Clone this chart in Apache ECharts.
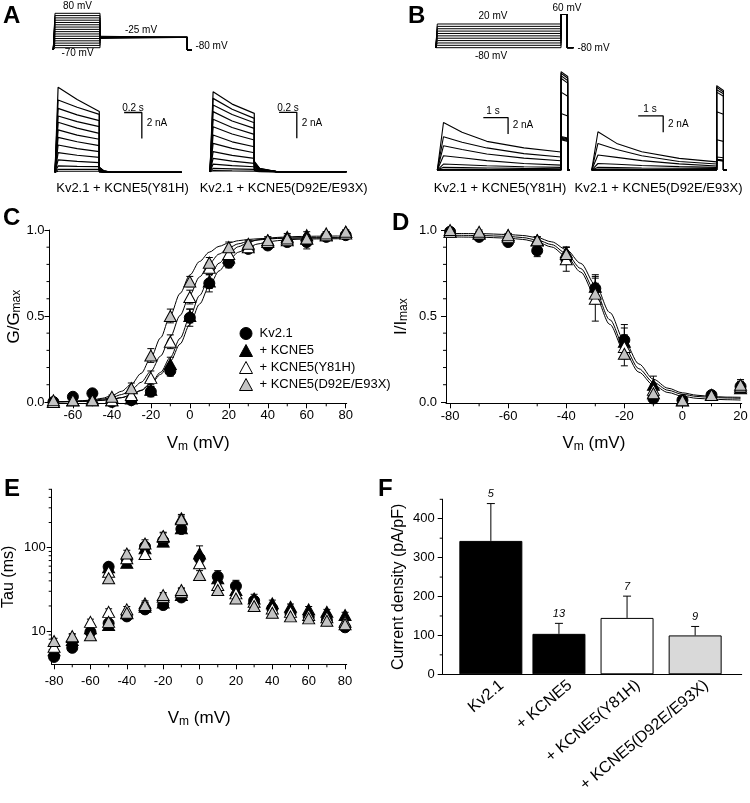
<!DOCTYPE html>
<html><head><meta charset="utf-8">
<script src="https://cdn.jsdelivr.net/npm/echarts@6/dist/echarts.min.js"></script>
<style>html,body{margin:0;padding:0;background:#fff}#c{width:750px;height:803px}</style>
</head><body><div id="c"></div>
<script>
// ================= DATA =================
// Panel A voltage protocol (mV) and timing (s)
const protA_steps = [-70,-60,-50,-40,-30,-20,-10,0,10,20,30,40,50,60,70,80];
const protA_levels = {hold:-80, tail:-25};
const protA_times = [-0.02, 0, 0.5, 1.47, 1.52];
// Panel A current traces (nA): peak, value at 0.25 s, end of step, tail
const aL_peak = [6.54,5.56,4.92,4.33,3.85,3.26,2.69,2.10,1.51,0.95,0.49,0.23,0.08];
const aL_mid  = [5.60,5.00,4.42,3.90,3.40,2.86,2.35,1.82,1.31,0.84,0.46,0.23,0.08];
const aL_end  = [4.67,4.46,3.97,3.51,3.00,2.54,2.05,1.59,1.15,0.74,0.44,0.23,0.08];
const aL_tail = [0.40,0.38,0.35,0.32,0.28,0.25,0.21,0.17,0.13,0.09,0.05,0.02,0.01];
const aL_late = [0.12,0.11,0.10,0.09,0.08,0.07,0.06,0.05,0.04,0.03,0.02,0.01,0.00];
const aR_peak = [6.15,5.64,5.13,4.62,4.03,3.46,2.82,2.18,1.54,1.03,0.59,0.26,0.08];
const aR_mid  = [5.20,4.80,4.40,3.90,3.40,2.90,2.30,1.80,1.25,0.82,0.47,0.22,0.06];
const aR_end  = [4.49,4.10,3.77,3.33,2.87,2.44,1.92,1.46,1.03,0.64,0.38,0.18,0.05];
const aR_tail = [0.80,0.75,0.70,0.65,0.58,0.50,0.42,0.34,0.26,0.18,0.10,0.05,0.01];
const aR_late = [0.25,0.23,0.21,0.19,0.17,0.15,0.13,0.10,0.08,0.05,0.03,0.015,0.00];
const aTimes = {peak:0.035, mid:0.25, end:0.5};
const aScale_t = [0.78, 0.98], aScaleL_i = [4.6, 2.6], aScaleR_i = [4.57, 2.57];

// Panel B voltage protocol
const protB_steps = [-80,-70,-60,-50,-40,-30,-20,-10,0,10,20];
const protB_levels = {hold:-80, test:60};
const protB_times = [-0.06, 0, 5, 5.25, 5.5];
// Panel B current traces (nA) at 0.25, 1, 2, 3.5, 5 s and test pulse start/end
const bL_peak = [0,0,0,0.02,0.10,0.33,0.73,1.75,2.96,4.06,5.80];
const bL_t1   = [0,0,0,0.02,0.09,0.30,0.65,1.50,2.50,3.40,4.60];
const bL_t2   = [0,0,0,0.02,0.08,0.25,0.52,1.15,1.95,2.70,3.50];
const bL_t35  = [0,0,0,0.01,0.07,0.20,0.40,0.80,1.45,2.00,2.70];
const bL_end  = [0,0,0,0.01,0.06,0.16,0.33,0.60,1.13,1.60,2.20];
const bL_pulse    = [12.0,11.8,11.5,11.2,9.5,6.9,4.1,3.9,3.7,3.8,4.0];
const bL_pulseEnd = [11.4,11.2,10.9,10.6,9.0,6.6,3.9,3.7,3.5,3.6,3.8];
const bR_peak = [0,0,0,0.01,0.04,0.12,0.33,0.80,1.83,3.25,4.67];
const bR_t1   = [0,0,0,0.01,0.04,0.11,0.30,0.70,1.55,2.50,3.25];
const bR_t2   = [0,0,0,0.01,0.03,0.10,0.26,0.55,1.15,1.75,2.23];
const bR_t35  = [0,0,0,0.01,0.03,0.10,0.22,0.42,0.75,1.05,1.42];
const bR_end  = [0,0,0,0.01,0.03,0.10,0.20,0.33,0.50,0.73,1.00];
const bR_pulse    = [10.3,10.1,9.8,9.5,7.1,3.7,1.6,1.3,1.2,1.2,1.3];
const bR_pulseEnd = [9.7,9.5,9.3,9.0,6.8,3.5,1.5,1.2,1.1,1.1,1.2];
const bTimes = [0, 0.25, 1, 2, 3.5, 5, 5.27];
const bScale_t = [1.86, 2.86], bScaleL_i = [6.4, 4.4], bScaleR_i = [6.6, 4.6];

// Panel C: G/Gmax
const cV = [-70,-60,-50,-40,-30,-20,-10,0,10,20,30,40,50,60,70,80];
const cKv   = [0.00,0.03,0.05,0.00,0.01,0.06,0.18,0.49,0.69,0.81,0.89,0.91,0.93,0.93,0.96,0.97];
const cKv_e = [0.01,0.02,0.02,0.01,0.01,0.03,0.03,0.05,0.05,0.03,0.02,0.02,0.02,0.04,0.02,0.01];
const cK5   = [0.00,0.01,0.02,0.01,0.02,0.07,0.22,0.50,0.70,0.84,0.91,0.94,0.96,0.97,0.97,0.99];
const cK5_e = [0.01,0.01,0.01,0.01,0.01,0.02,0.04,0.04,0.04,0.03,0.02,0.02,0.02,0.02,0.02,0.01];
const cY81   = [0.00,0.01,0.01,0.01,0.04,0.14,0.35,0.61,0.78,0.86,0.90,0.93,0.94,0.95,0.97,0.98];
const cY81_e = [0.01,0.01,0.01,0.01,0.02,0.04,0.04,0.04,0.03,0.03,0.02,0.02,0.02,0.02,0.01,0.01];
const cD92   = [0.01,0.01,0.01,0.03,0.08,0.27,0.50,0.70,0.81,0.90,0.92,0.94,0.95,0.95,0.98,0.99];
const cD92_e = [0.01,0.01,0.01,0.01,0.03,0.04,0.04,0.03,0.03,0.03,0.02,0.02,0.02,0.02,0.01,0.01];
const cFitV = [-70,-65,-60,-55,-50,-45,-40,-35,-30,-25,-20,-15,-10,-5,0,5,10,15,20,25,30,35,40,45,50,55,60,65,70,75,80];
const cFitKv  = [0.001,0.001,0.002,0.004,0.006,0.010,0.016,0.025,0.041,0.066,0.104,0.160,0.237,0.337,0.451,0.569,0.675,0.762,0.826,0.871,0.900,0.919,0.931,0.938,0.943,0.946,0.947,0.948,0.949,0.949,0.950];
const cFitK5  = [0.001,0.001,0.002,0.003,0.005,0.009,0.015,0.025,0.041,0.068,0.110,0.172,0.259,0.370,0.495,0.619,0.725,0.807,0.865,0.903,0.928,0.943,0.952,0.957,0.960,0.962,0.963,0.964,0.964,0.965,0.965];
const cFitY81 = [0.001,0.002,0.003,0.006,0.009,0.016,0.026,0.043,0.071,0.114,0.178,0.267,0.379,0.503,0.623,0.727,0.805,0.860,0.897,0.920,0.934,0.942,0.947,0.951,0.952,0.953,0.954,0.954,0.955,0.955,0.955];
const cFitD92 = [0.001,0.002,0.004,0.007,0.012,0.021,0.037,0.062,0.103,0.166,0.257,0.373,0.504,0.631,0.738,0.817,0.871,0.905,0.925,0.938,0.945,0.949,0.952,0.953,0.954,0.954,0.955,0.955,0.955,0.955,0.955];

// Panel D: I/Imax
const dV = [-80,-70,-60,-50,-40,-30,-20,-10,0,10,20];
const dKv   = [0.99,0.96,0.93,0.88,0.83,0.66,0.36,0.02,0.01,0.04,0.09];
const dKv_e = [0.01,0.01,0.02,0.035,0.03,0.06,0.09,0.02,0.01,0.01,0.02];
const dK5   = [0.99,0.98,0.97,0.94,0.87,0.67,0.35,0.10,0.01,0.04,0.08];
const dK5_e = [0.01,0.01,0.01,0.02,0.03,0.07,0.08,0.05,0.01,0.01,0.02];
const dY81   = [0.99,0.98,0.96,0.94,0.83,0.60,0.32,0.07,0.01,0.04,0.09];
const dY81_e = [0.01,0.01,0.01,0.02,0.07,0.13,0.07,0.03,0.01,0.01,0.03];
const dD92   = [1.00,0.99,0.97,0.94,0.86,0.63,0.28,0.05,0.01,0.04,0.10];
const dD92_e = [0.01,0.01,0.01,0.02,0.04,0.06,0.07,0.02,0.01,0.01,0.03];
const dFitV = [-80,-70,-60,-55,-50,-45,-40,-35,-30,-25,-20,-15,-10,-5,0,5,10,15,20];
const dFit1 = [0.970,0.968,0.963,0.956,0.942,0.915,0.864,0.776,0.643,0.478,0.318,0.193,0.114,0.068,0.044,0.032,0.026,0.023,0.021];
const dFit2 = [0.980,0.979,0.974,0.968,0.956,0.931,0.886,0.806,0.681,0.520,0.354,0.221,0.132,0.080,0.053,0.039,0.032,0.028,0.027];
const dFit3 = [0.960,0.958,0.953,0.945,0.930,0.901,0.847,0.755,0.617,0.451,0.293,0.173,0.098,0.055,0.033,0.021,0.016,0.013,0.011];

// Panel E: Tau (ms)
const eV = [-80,-70,-60,-50,-40,-30,-20,-10,0,10,20,30,40,50,60,70,80];
const eKv   = [4.9,6.3,9.8,12.4,15,18.2,20.5,25.3,74.5,45,34.6,23.1,18.7,16.3,14.8,13.5,11.1];
const eKv_e = [0.4,0.5,0.8,1,1,1.2,1.5,2,10,8,6,2.5,1.5,1.2,1,1,0.8];
const eK5   = [5.9,7.8,10.8,11.8,16.3,19.6,22,27,85,43,31,24.6,21.5,19.6,18.2,17,15.6];
const eK5_e = [0.5,0.6,1,1,1.2,1.5,2,2.5,20,7,5,3,2,1.5,1.5,1.2,1.2];
const eY81   = [6.5,8.5,12.9,17,18.2,21.5,25.8,29.7,65,35.6,28.3,22.5,18.7,17,15.6,14.6,12.9];
const eY81_e = [0.6,0.7,1,1.5,1.5,1.5,2,2.5,8,5,3,2,1.5,1.2,1.2,1,1];
const eD92   = [7.6,8.7,8.9,12.9,16.6,20.5,27,31,47,31,24.6,20,16.6,15,14.2,13.3,12.1];
const eD92_e = [0.6,0.6,0.7,1,1.2,1.5,2,2,6,3,2.5,2,1.5,1.2,1,1,1];
const eSlowV = [-50,-40,-30,-20,-10];
const eKvS   = [59,72,103,121,167];   const eKvS_e = [6,8,10,12,15];
const eK5S   = [58,66,98,118,171];    const eK5S_e = [6,7,12,12,15];
const eY81S  = [51.5,74.5,84,135,225];const eY81S_e = [6,8,10,15,25];
const eD92S  = [43,85,112,138,219];   const eD92S_e = [5,8,12,15,20];

// Panel F: current density
const fCats = ['Kv2.1', '+ KCNE5', '+ KCNE5(Y81H)', '+ KCNE5(D92E/E93X)'];
const fMean = [343, 104, 145, 100];
const fErr  = [96, 27, 56, 23];
const fN    = [5, 13, 7, 9];

// Tick values
const cXTicks = [-60,-40,-20,0,20,40,60,80], cXMinor = [-70,-50,-30,-10,10,30,50,70];
const gYTicks = [0,0.5,1], gYMinor = [0.1,0.2,0.3,0.4,0.6,0.7,0.8,0.9];
const dXTicks = [-80,-60,-40,-20,0,20], dXMinor = [-70,-50,-30,-10,10];
const eXTicks = [-80,-60,-40,-20,0,20,40,60,80], eXMinor = [-70,-50,-30,-10,10,30,50,70];
const eYTicks = [10,100], eYMinor = [5,6,7,8,9,20,30,40,50,60,70,80,90,200,300,400,500];
const fYTicks = [0,100,200,300,400], fYMinor = [50,150,250,350,450];

// ================= STYLE / BUILD =================
const FONT = '"Liberation Sans", Arial, Helvetica, sans-serif';
const GRAY_MK = '#c4c4c4', GRAY_BAR = '#d9d9d9';
const NAMES = ['Kv2.1', '+ KCNE5', '+ KCNE5(Y81H)', '+ KCNE5(D92E/E93X)'];
const MK = [
  {symbol:'circle', size:11, itemStyle:{color:'#000', borderColor:'#000', borderWidth:1, opacity:1}},
  {symbol:'triangle', size:[12,11], itemStyle:{color:'#000', borderColor:'#000', borderWidth:1, opacity:1}},
  {symbol:'triangle', size:[12,11], itemStyle:{color:'#fff', borderColor:'#000', borderWidth:1, opacity:1}},
  {symbol:'triangle', size:[12,11], itemStyle:{color:GRAY_MK, borderColor:'#000', borderWidth:1, opacity:1}}
];
const RICH = {
  a:{fontSize:17, fontFamily:FONT, color:'#000', lineHeight:22, verticalAlign:'bottom'},
  b:{fontSize:12, fontFamily:FONT, color:'#000', lineHeight:10, verticalAlign:'bottom'},
  c:{fontSize:16, fontFamily:FONT, color:'#000', lineHeight:20}
};

const option = {animation:false, backgroundColor:'#fff', grid:[], xAxis:[], yAxis:[], series:[], graphic:[]};
function addGrid(left, top, width, height){
  option.grid.push({left, top, width, height, containLabel:false, outerBoundsMode:'none', show:false});
  return option.grid.length - 1;
}
function hidden(gi, min, max, type){ return {gridIndex:gi, type:type||'value', min, max, show:false}; }
function mkAxis(gi, o){
  const a = {gridIndex:gi, type:o.type||'value', min:o.min, max:o.max,
    axisLine:{show:o.line!==false, onZero:false, lineStyle:{color:'#000', width:1}},
    axisTick:{show:!!o.ticks, inside:false, length:5, lineStyle:{color:'#000', width:1}, customValues:o.ticks},
    axisLabel:{show:!!o.ticks, customValues:o.ticks, margin:o.margin, color:'#000', fontSize:13, fontFamily:FONT},
    splitLine:{show:false}, minorTick:{show:false}, minorSplitLine:{show:false}};
  if (o.fmt) a.axisLabel.formatter = o.fmt;
  if (o.type === 'log') a.logBase = 10;
  if (o.name){ a.name = o.name; a.nameLocation = 'middle'; a.nameGap = o.gap; a.nameTextStyle = {rich:RICH}; }
  return a;
}
function lineStyleSeries(gi, data, width, extra){
  return Object.assign({type:'line', xAxisIndex:gi, yAxisIndex:gi, data, symbol:'none', silent:true,
    lineStyle:{color:'#000', width:width||1, opacity:1}, z:3}, extra||{});
}
function minorSeries(xi, yi, vals, dir, ref){
  return {type:'custom', xAxisIndex:xi, yAxisIndex:yi, silent:true, clip:false, z:5,
    data: vals.map(v => dir === 'x' ? [v, ref] : [ref, v]),
    encode:{x:0, y:1},
    renderItem:(p, api) => {
      const cs = p.coordSys;
      if (dir === 'x'){
        const pt = api.coord([api.value(0), ref]);
        const y0 = cs.y + cs.height;
        return {type:'line', shape:{x1:pt[0], y1:y0, x2:pt[0], y2:y0+3}, style:{stroke:'#000', lineWidth:1}};
      }
      const pt = api.coord([ref, api.value(1)]);
      return {type:'line', shape:{x1:cs.x-3, y1:pt[1], x2:cs.x, y2:pt[1]}, style:{stroke:'#000', lineWidth:1}};
    }};
}
function seg(x1,y1,x2,y2){ return {type:'line', shape:{x1,y1,x2,y2}, style:{stroke:'#000', lineWidth:1}}; }
function errSeries(gi, xs, ys, es, floor){
  return {type:'custom', xAxisIndex:gi, yAxisIndex:gi, silent:true, clip:false, z:6,
    data: xs.map((x,i) => [x, ys[i], es[i]]), encode:{x:0, y:1},
    renderItem:(p, api) => {
      const x = api.value(0), y = api.value(1), e = api.value(2);
      const hi = api.coord([x, y+e]), lo = api.coord([x, Math.max(y-e, floor)]);
      return {type:'group', children:[seg(hi[0],hi[1],lo[0],lo[1]), seg(hi[0]-3.5,hi[1],hi[0]+3.5,hi[1]), seg(lo[0]-3.5,lo[1],lo[0]+3.5,lo[1])]};
    }};
}
function scatter(gi, k, xs, ys, z){
  return {type:'scatter', name:NAMES[k], xAxisIndex:gi, yAxisIndex:gi, symbol:MK[k].symbol, symbolSize:MK[k].size,
    itemStyle:MK[k].itemStyle, z:z||10, silent:true, data: xs.map((x,i) => [x, ys[i]])};
}
function txt(t, x, y, size, align, weight, va){
  return {type:'text', x, y, silent:true, z:50,
    style:{text:t, fill:'#000', fontSize:size, fontFamily:FONT, fontWeight:weight||'normal', align:align||'center', verticalAlign:va||'middle'}};
}

// ---------- Panel A ----------
const gPA = addGrid(53.2, 12.15, 139.5, 39);
option.xAxis.push(hidden(gPA, -0.02, 1.53)); option.yAxis.push(hidden(gPA, -85, 85));
const gAL = addGrid(55, 81.3, 126.7, 93.6);
option.xAxis.push(hidden(gAL, 0, 1.43)); option.yAxis.push(hidden(gAL, -0.2, 7.0));
const gAR = addGrid(210, 80.7, 136.4, 93.6);
option.xAxis.push(hidden(gAR, 0, 1.54)); option.yAxis.push(hidden(gAR, -0.2, 7.0));
// ---------- Panel B ----------
const gPB = addGrid(435.8, 13.33, 137.6, 35.55);
option.xAxis.push(hidden(gPB, -0.06, 5.5)); option.yAxis.push(hidden(gPB, -85, 65));
const gBL = addGrid(437.3, 70, 132.4, 101.7);
option.xAxis.push(hidden(gBL, 0, 5.35)); option.yAxis.push(hidden(gBL, -0.2, 12.2));
const gBR = addGrid(591.7, 70, 135, 101.7);
option.xAxis.push(hidden(gBR, 0, 5.4)); option.yAxis.push(hidden(gBR, -0.2, 12.2));

// protocols
const [a0,a1,a2,a3,a4] = protA_times;
protA_steps.forEach(V => option.series.push(lineStyleSeries(gPA,
  [[a0,protA_levels.hold],[a1,protA_levels.hold],[a1,V],[a2,V],[a2,protA_levels.tail],[a3,protA_levels.tail],[a3,protA_levels.hold],[a4,protA_levels.hold]], 1)));
const [b0,b1,b2,b3,b4] = protB_times;
protB_steps.forEach(V => option.series.push(lineStyleSeries(gPB,
  [[b0,protB_levels.hold],[b1,protB_levels.hold],[b1,V],[b2,V],[b2,protB_levels.test],[b3,protB_levels.test],[b3,protB_levels.hold],[b4,protB_levels.hold]], 1)));

// A traces
function tracesA(gi, peak, mid, end, tail, late, tLate, tZero, tMax){
  peak.forEach((p,i) => option.series.push(lineStyleSeries(gi,
    [[0,0],[aTimes.peak,p],[aTimes.mid,mid[i]],[aTimes.end,end[i]],[aTimes.end,tail[i]],[tLate,late[i]],[tZero,0],[tMax,0]], 1.2)));
}
tracesA(gAL, aL_peak, aL_mid, aL_end, aL_tail, aL_late, 0.55, 0.64, 1.43);
tracesA(gAR, aR_peak, aR_mid, aR_end, aR_tail, aR_late, 0.56, 0.75, 1.54);
// B traces
function tracesB(gi, pk, t1, t2, t35, en, pu, pe, tMax){
  const T = bTimes;
  pk.forEach((p,i) => option.series.push(lineStyleSeries(gi,
    [[T[0],0],[T[1],p],[T[2],t1[i]],[T[3],t2[i]],[T[4],t35[i]],[T[5],en[i]],[T[5],pu[i]],[T[6],pe[i]],[T[6],0],[tMax,0]], 1.1)));
}
tracesB(gBL, bL_peak, bL_t1, bL_t2, bL_t35, bL_end, bL_pulse, bL_pulseEnd, 5.35);
tracesB(gBR, bR_peak, bR_t1, bR_t2, bR_t35, bR_end, bR_pulse, bR_pulseEnd, 5.4);
// scale bars
option.series.push(lineStyleSeries(gAL, [[aScale_t[0],aScaleL_i[0]],[aScale_t[1],aScaleL_i[0]],[aScale_t[1],aScaleL_i[1]]], 1.3));
option.series.push(lineStyleSeries(gAR, [[aScale_t[0],aScaleR_i[0]],[aScale_t[1],aScaleR_i[0]],[aScale_t[1],aScaleR_i[1]]], 1.3));
option.series.push(lineStyleSeries(gBL, [[bScale_t[0],bScaleL_i[0]],[bScale_t[1],bScaleL_i[0]],[bScale_t[1],bScaleL_i[1]]], 1.3));
option.series.push(lineStyleSeries(gBR, [[bScale_t[0],bScaleR_i[0]],[bScale_t[1],bScaleR_i[0]],[bScale_t[1],bScaleR_i[1]]], 1.3));

// ---------- Panel C ----------
const gC = addGrid(49.5, 230, 297.2, 173.3);
option.xAxis.push(mkAxis(gC, {min:-72, max:80.5, ticks:cXTicks, margin:6, name:'{a|V}{b|m}{a| (mV)}', gap:27}));
option.yAxis.push(mkAxis(gC, {min:-0.008, max:1.0, ticks:gYTicks, margin:5, fmt:v => v.toFixed(1), name:'{a|G/G}{b|max}', gap:26}));
// ---------- Panel D ----------
const gD = addGrid(446, 230, 295.7, 173.3);
option.xAxis.push(mkAxis(gD, {min:-81.4, max:20.4, ticks:dXTicks, margin:7, name:'{a|V}{b|m}{a| (mV)}', gap:27}));
option.yAxis.push(mkAxis(gD, {min:-0.008, max:1.0, ticks:gYTicks, margin:9, fmt:v => v.toFixed(1), name:'{a|I/I}{b|max}', gap:36}));
// ---------- Panel E ----------
const gE = addGrid(51.7, 489.3, 295, 175);
option.xAxis.push(mkAxis(gE, {min:-81.3, max:80.9, ticks:eXTicks, margin:11, name:'{a|V}{b|m}{a| (mV)}', gap:41}));
option.yAxis.push(mkAxis(gE, {type:'log', min:4, max:500, ticks:eYTicks, margin:6, name:'{c|Tau (ms)}', gap:33}));
// ---------- Panel F ----------
const gF = addGrid(442.7, 499.3, 299, 175);
option.xAxis.push(mkAxis(gF, {min:0, max:1}));
option.yAxis.push(mkAxis(gF, {min:0, max:450, ticks:fYTicks, margin:8, name:'{c|Current density (pA/pF)}', gap:34}));
const gFB = addGrid(456.8, 499.3, 272.4, 175);
option.xAxis.push({gridIndex:gFB, type:'category', data:fCats, show:false});
option.yAxis.push(hidden(gFB, 0, 450));
const gFL = addGrid(467.8, 499.3, 272.4, 175);
option.xAxis.push({gridIndex:gFL, type:'category', data:fCats, axisLine:{show:false}, axisTick:{show:false},
  axisLabel:{interval:0, rotate:40, margin:9, color:'#000', fontSize:16, fontFamily:FONT}, splitLine:{show:false}});
option.yAxis.push(hidden(gFL, 0, 450));
const gFB1 = addGrid(456.8, 499.3, 272.4, 175);
option.xAxis.push({gridIndex:gFB1, type:'category', data:fCats, show:false});
option.yAxis.push(hidden(gFB1, 0, 450));

// minor ticks
option.series.push(minorSeries(gC, gC, cXMinor, 'x', 0.5));
option.series.push(minorSeries(gC, gC, gYMinor, 'y', 0));
option.series.push(minorSeries(gD, gD, dXMinor, 'x', 0.5));
option.series.push(minorSeries(gD, gD, gYMinor, 'y', -40));
option.series.push(minorSeries(gE, gE, eXMinor, 'x', 20));
option.series.push(minorSeries(gE, gE, eYMinor, 'y', 0));
option.series.push(minorSeries(gF, gF, fYMinor, 'y', 0.5));

// C series
[cFitKv, cFitK5, cFitY81, cFitD92].forEach(f => option.series.push(lineStyleSeries(gC, cFitV.map((v,i)=>[v,f[i]]), 1, {smooth:0.3, smoothMonotone:'x'})));
[[cKv,cKv_e],[cK5,cK5_e],[cY81,cY81_e],[cD92,cD92_e]].forEach(([y,e],k) => {
  option.series.push(errSeries(gC, cV, y, e, -0.008));
  option.series.push(scatter(gC, k, cV, y, 10+k));
});
// D series
[dFit1, dFit2, dFit3].forEach(f => option.series.push(lineStyleSeries(gD, dFitV.map((v,i)=>[v,f[i]]), 1, {smooth:0.3, smoothMonotone:'x'})));
[[dKv,dKv_e],[dK5,dK5_e],[dY81,dY81_e],[dD92,dD92_e]].forEach(([y,e],k) => {
  option.series.push(errSeries(gD, dV, y, e, -0.008));
  option.series.push(scatter(gD, k, dV, y, 10+k));
});
// E series
[[eKv,eKv_e,eKvS,eKvS_e],[eK5,eK5_e,eK5S,eK5S_e],[eY81,eY81_e,eY81S,eY81S_e],[eD92,eD92_e,eD92S,eD92S_e]].forEach(([y,e,ys,es],k) => {
  option.series.push(errSeries(gE, eV, y, e, 4));
  option.series.push(errSeries(gE, eSlowV, ys, es, 4));
  option.series.push(scatter(gE, k, eV, y, 10+k));
  option.series.push(scatter(gE, k, eSlowV, ys, 10+k));
});
// F bars
const fColors = ['#000', '#000', '#fff', GRAY_BAR];
option.series.push({type:'bar', xAxisIndex:gFB1, yAxisIndex:gFB1, barWidth:63, silent:true, z:4,
  itemStyle:{borderColor:'#000', borderWidth:1, opacity:1},
  data: fMean.map((m,i) => i === 0 ? {value:m, itemStyle:{color:fColors[i]}} : '-')});
option.series.push({type:'bar', xAxisIndex:gFB, yAxisIndex:gFB, barWidth:53, silent:true, z:4,
  itemStyle:{borderColor:'#000', borderWidth:1, opacity:1},
  data: fMean.map((m,i) => i === 0 ? '-' : {value:m, itemStyle:{color:fColors[i]}})});
option.series.push({type:'custom', xAxisIndex:gFB, yAxisIndex:gFB, silent:true, clip:false, z:6,
  data: fMean.map((m,i) => [i, m, fErr[i], fN[i]]), encode:{x:0, y:1},
  renderItem:(p, api) => {
    const i = api.value(0), m = api.value(1), e = api.value(2), n = api.value(3);
    const base = api.coord([i, m]), hi = api.coord([i, m+e]);
    return {type:'group', children:[
      seg(base[0], base[1], hi[0], hi[1]), seg(hi[0]-4, hi[1], hi[0]+4, hi[1]),
      {type:'text', x:hi[0], y:hi[1]-4, style:{text:String(n), fill:'#000', fontSize:11, fontStyle:'italic', fontFamily:FONT, align:'center', verticalAlign:'bottom'}}
    ]};
  }});

// legend (panel C)
option.legend = {orient:'vertical', left:234, top:322, itemWidth:13, itemHeight:12, itemGap:4, selectedMode:false,
  textStyle:{fontSize:13, fontFamily:FONT, color:'#000', padding:[0,0,0,2]},
  data: NAMES.map((n,k) => ({name:n, icon:MK[k].symbol, itemStyle:MK[k].itemStyle}))};

// texts
option.graphic = [
  txt('A', 3, 4, 24, 'left', 'bold', 'top'), txt('B', 408, 4, 24, 'left', 'bold', 'top'),
  txt('C', 3, 206, 24, 'left', 'bold', 'top'), txt('D', 392, 211, 24, 'left', 'bold', 'top'),
  txt('E', 4, 477, 24, 'left', 'bold', 'top'), txt('F', 378, 477, 24, 'left', 'bold', 'top'),
  txt('80 mV', 77.5, 6.5, 10), txt('-70 mV', 77.5, 53.5, 10), txt('-25 mV', 141, 30, 10), txt('-80 mV', 211.5, 46.7, 10),
  txt('20 mV', 493, 16.7, 10), txt('60 mV', 567, 8.3, 10), txt('-80 mV', 491, 56.7, 10), txt('-80 mV', 593.5, 48.3, 10),
  txt('0.2 s', 133, 108.3, 10), txt('2 nA', 146.7, 123.3, 10, 'left'),
  txt('0.2 s', 288, 108.3, 10), txt('2 nA', 301.7, 123.3, 10, 'left'),
  txt('1 s', 493, 111.5, 10), txt('2 nA', 512.7, 125, 10, 'left'),
  txt('1 s', 650, 109.5, 10), txt('2 nA', 668, 124.3, 10, 'left'),
  txt('Kv2.1 + KCNE5(Y81H)', 122.5, 188, 13), txt('Kv2.1 + KCNE5(D92E/E93X)', 283.7, 188, 13),
  txt('Kv2.1 + KCNE5(Y81H)', 500, 188, 13), txt('Kv2.1 + KCNE5(D92E/E93X)', 658.5, 188, 13)
];

const chart = echarts.init(document.getElementById('c'), null, {renderer:'canvas'});
chart.setOption(option);
</script></body></html>
